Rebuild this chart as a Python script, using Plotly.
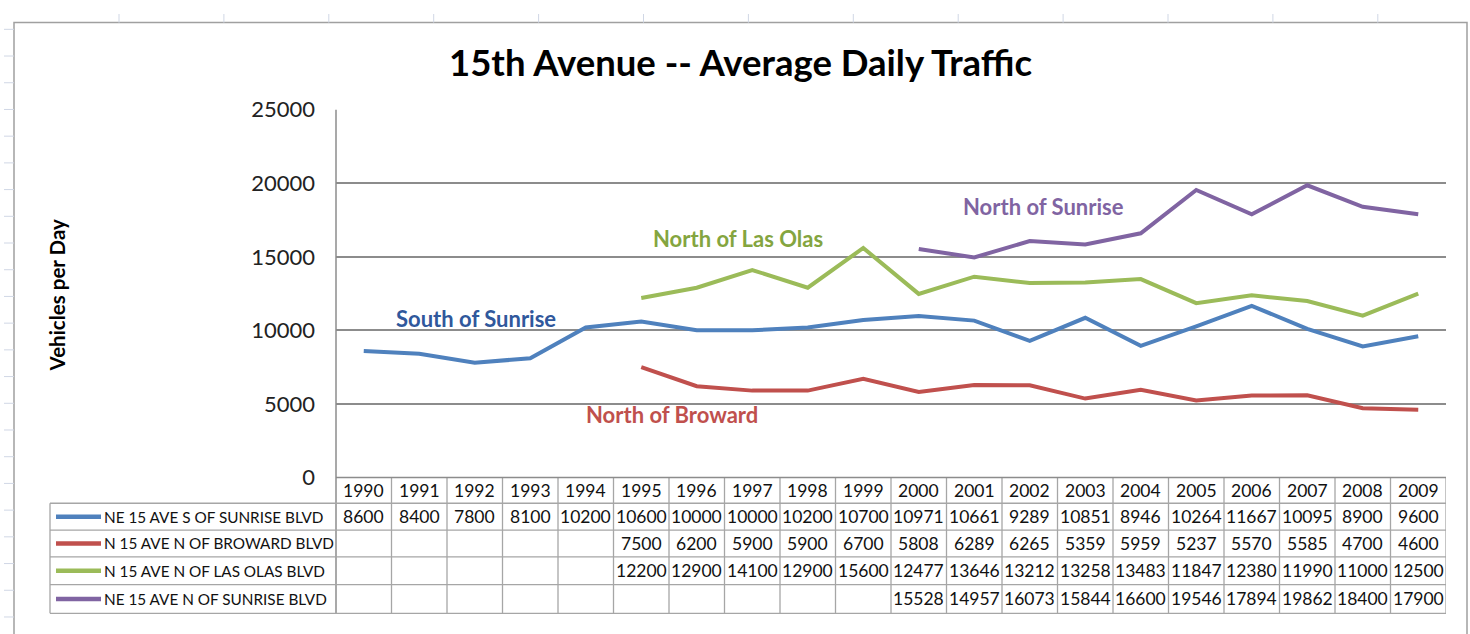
import plotly.graph_objects as go

# ---------------- data ----------------
years = list(range(1990, 2010))
south_of_sunrise = [8600, 8400, 7800, 8100, 10200, 10600, 10000, 10000, 10200, 10700,
                    10971, 10661, 9289, 10851, 8946, 10264, 11667, 10095, 8900, 9600]
north_of_broward = [None, None, None, None, None, 7500, 6200, 5900, 5900, 6700,
                    5808, 6289, 6265, 5359, 5959, 5237, 5570, 5585, 4700, 4600]
north_of_las_olas = [None, None, None, None, None, 12200, 12900, 14100, 12900, 15600,
                     12477, 13646, 13212, 13258, 13483, 11847, 12380, 11990, 11000, 12500]
north_of_sunrise = [None, None, None, None, None, None, None, None, None, None,
                    15528, 14957, 16073, 15844, 16600, 19546, 17894, 19862, 18400, 17900]
series_names = ["NE 15 AVE S OF SUNRISE BLVD", "N 15 AVE N OF BROWARD BLVD",
                "N 15 AVE N OF LAS OLAS BLVD", "NE 15 AVE N OF SUNRISE BLVD"]
line_labels = ["South of Sunrise", "North of Broward", "North of Las Olas", "North of Sunrise"]
y_ticks = [0, 5000, 10000, 15000, 20000, 25000]
title_text = "15th Avenue -- Average Daily Traffic"
y_title = "Vehicles per Day"

series_values = [south_of_sunrise, north_of_broward, north_of_las_olas, north_of_sunrise]
line_colors = ["#4F81BD", "#C0504D", "#9BBB59", "#8064A2"]
label_colors = ["#30589C", "#C0504D", "#84A540", "#8064A2"]

# ---------------- layout helpers ----------------
W, H = 1470, 634
def px(x):
    return x / W
def py(y):
    return 1 - y / H

FONT = "Lato, Calibri, Carlito, Open Sans, sans-serif"
GRID = "#8C8C8C"
TBL = "#A6A6A6"

fig = go.Figure()
for vals, name, col in zip(series_values, series_names, line_colors):
    fig.add_trace(go.Scatter(x=years, y=vals, mode="lines", name=name,
                             line=dict(color=col, width=4), connectgaps=False,
                             showlegend=False, hoverinfo="x+y+name"))

shapes = []
# spreadsheet cells around the chart
xk = 119.0
while xk < W:
    shapes.append(dict(type="line", xref="paper", yref="paper", x0=px(xk), x1=px(xk),
                       y0=py(0), y1=py(9), line=dict(color="#D0D7E5", width=1)))
    xk += 104.9
yk = 16.0
while yk < H:
    shapes.append(dict(type="line", xref="paper", yref="paper", x0=px(4), x1=px(14),
                       y0=py(yk), y1=py(yk), line=dict(color="#D0D7E5", width=1)))
    yk += 27.9
# chart area border
shapes.append(dict(type="rect", xref="paper", yref="paper", x0=px(14), x1=px(1467),
                   y0=py(650), y1=py(9), line=dict(color="#A0A0A0", width=1.5),
                   fillcolor="rgba(0,0,0,0)", layer="below"))
# plot-area left border (continues into the table)
shapes.append(dict(type="line", xref="paper", yref="paper", x0=px(336), x1=px(336),
                   y0=py(100), y1=py(626), line=dict(color=GRID, width=1.5)))

# data table grid
n = len(years)
for k in range(1, n + 1):
    xb = years[0] - 0.5 + k
    shapes.append(dict(type="line", xref="x", yref="paper", x0=xb, x1=xb,
                       y0=py(484), y1=py(626), line=dict(color=TBL, width=1.3)))
shapes.append(dict(type="line", xref="x", yref="paper", x0=years[0] - 0.5, x1=years[-1] + 0.5,
                   y0=py(484), y1=py(484), line=dict(color=GRID, width=1.5)))
row_edges = [511, 539, 567, 596, 626]
for ry in row_edges:
    shapes.append(dict(type="line", xref="paper", yref="paper", x0=px(50), x1=px(1446),
                       y0=py(ry), y1=py(ry), line=dict(color=TBL, width=1.3)))
shapes.append(dict(type="line", xref="paper", yref="paper", x0=px(50), x1=px(50),
                   y0=py(511), y1=py(626), line=dict(color=TBL, width=1.3)))

annotations = []
CELL = 17.5
def ann(**kw):
    base = dict(showarrow=False, xanchor="center", yanchor="middle")
    base.update(kw)
    annotations.append(base)

for yr in years:
    ann(x=yr, xref="x", y=py(497.5), yref="paper", text=str(yr),
        font=dict(family=FONT, size=CELL, color="#111"))
row_centers = [525, 553, 581.5, 611]
for vals, name, col, rc in zip(series_values, series_names, line_colors, row_centers):
    shapes.append(dict(type="line", xref="paper", yref="paper", x0=px(56), x1=px(101),
                       y0=py(rc), y1=py(rc), line=dict(color=col, width=4.5)))
    ann(x=px(102), xref="paper", y=py(rc), yref="paper", text=name, xanchor="left",
        font=dict(family=FONT, size=15.3, color="#111"))
    for yr, v in zip(years, vals):
        if v is None:
            continue
        ann(x=yr, xref="x", y=py(rc), yref="paper", text=str(v),
            font=dict(family=FONT, size=CELL, color="#111"))

# series labels on the chart
label_pos = [(476, 318), (672, 418), (738, 234), (1043, 201)]
for txt, col, (lx, ly) in zip(line_labels, label_colors, label_pos):
    ann(x=px(lx), xref="paper", y=py(ly), yref="paper", text="<b>" + txt + "</b>",
        font=dict(family=FONT, size=22, color=col))

# title and y-axis title
ann(x=px(741), xref="paper", y=py(50), yref="paper", text="<b>" + title_text + "</b>",
    font=dict(family=FONT, size=36.5, color="#000"))
ann(x=px(57), xref="paper", y=py(294), yref="paper", text="<b>" + y_title + "</b>",
    textangle=-90, font=dict(family=FONT, size=20.5, color="#000"))

fig.update_layout(
    width=W, height=H, autosize=False,
    margin=dict(l=0, r=0, t=0, b=0),
    paper_bgcolor="white", plot_bgcolor="white",
    xaxis=dict(domain=[px(336), px(1446)], range=[years[0] - 0.5, years[-1] + 0.5],
               showgrid=False, zeroline=False, showline=False, showticklabels=False,
               fixedrange=True),
    yaxis=dict(domain=[py(484), py(100)], range=[0, 25000], tickvals=y_ticks,
               ticktext=[str(t) for t in y_ticks],
               showgrid=True, gridcolor=GRID, gridwidth=1.5, zeroline=False,
               showline=False, ticks="", ticklabelstandoff=20,
               tickfont=dict(family=FONT, size=22, color="#222"), fixedrange=True),
    shapes=shapes, annotations=annotations,
)

fig.write_html("out.html", config={"displayModeBar": False},
               post_script="document.body.style.margin='0';document.body.style.overflow='hidden';")
